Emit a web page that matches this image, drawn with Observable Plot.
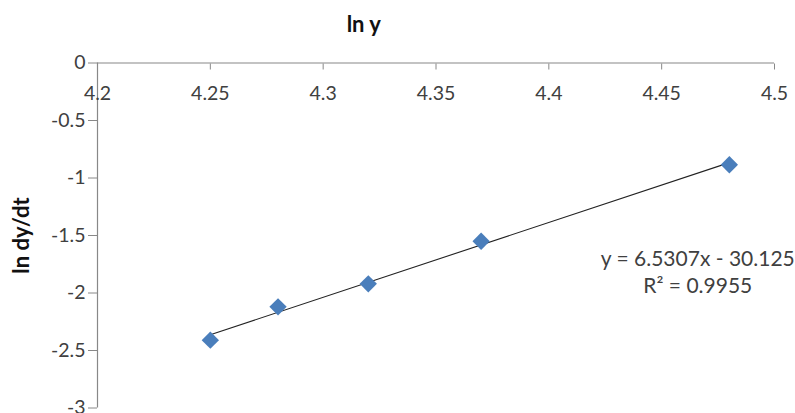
<!DOCTYPE html>
<html>
<head>
<meta charset="utf-8">
<script src="https://cdn.jsdelivr.net/npm/d3@7"></script>
<script src="https://cdn.jsdelivr.net/npm/@observablehq/plot@0.6"></script>
<style>
  html, body { margin: 0; padding: 0; background: #fff; }
  svg { font-family: Lato, "Open Sans", sans-serif; }
</style>
</head>
<body>
<div id="chart"></div>
<script>
// Data
const lnY = [4.25, 4.28, 4.32, 4.37, 4.48];
const lnDyDt = [-2.41, -2.12, -1.92, -1.55, -0.885];
const xTicks = [4.2, 4.25, 4.3, 4.35, 4.4, 4.45, 4.5];
const yTicks = [0, -0.5, -1, -1.5, -2, -2.5, -3];
const xTitle = "ln y";
const yTitle = "ln dy/dt";
const equationLines = ["y = 6.5307x - 30.125", "R² = 0.9955"];

const data = lnY.map((x, i) => ({x, y: lnDyDt[i]}));
const textColor = "#404040";
const axisColor = "#888888";

const chart = Plot.plot({
  width: 795,
  height: 413,
  marginLeft: 97,
  marginRight: 21,
  marginTop: 62.5,
  marginBottom: 5.5,
  style: {fontFamily: "Lato, 'Open Sans', sans-serif", background: "#fff", overflow: "visible"},
  x: {domain: [4.2, 4.5], axis: null},
  y: {domain: [-3, 0], axis: null},
  marks: [
    // y axis
    Plot.ruleX([4.2], {stroke: axisColor, strokeWidth: 1.2}),
    Plot.axisY({ticks: yTicks, tickFormat: d => String(d), tickSize: 9, tickPadding: 3, stroke: axisColor, fill: textColor, fontSize: 19.5, label: null}),
    // x axis at y = 0
    Plot.ruleY([0], {stroke: axisColor, strokeWidth: 1.2}),
    Plot.axisX({anchor: "top", ticks: xTicks, tickSize: 6, dy: 6, text: null, label: null, stroke: axisColor}),
    Plot.text(xTicks, {x: d => d, y: 0, dy: 31, text: d => String(d), fill: textColor, fontSize: 19.5}),
    // titles
    Plot.text([xTitle], {x: 4.318, y: 0, dy: -38, text: d => d, fontWeight: "bold", fontSize: 22, fill: "#111"}),
    Plot.text([yTitle], {x: 4.2, y: -1.5, dx: -76, rotate: -90, text: d => d, fontWeight: "bold", fontSize: 22, fill: "#111"}),
    // trendline
    Plot.linearRegressionY(data, {x: "x", y: "y", ci: 0, stroke: "#222", strokeWidth: 1.1}),
    // points
    Plot.dot(data, {x: "x", y: "y", symbol: "diamond2", r: 7.8, fill: "#4a7ebb", stroke: "none"}),
    // equation annotation
    Plot.text([equationLines.join("\n")], {x: 4.466, y: -1.81, text: d => d, fontSize: 21, fill: textColor, lineHeight: 1.25})
  ]
});
document.getElementById("chart").appendChild(chart);
</script>
</body>
</html>
